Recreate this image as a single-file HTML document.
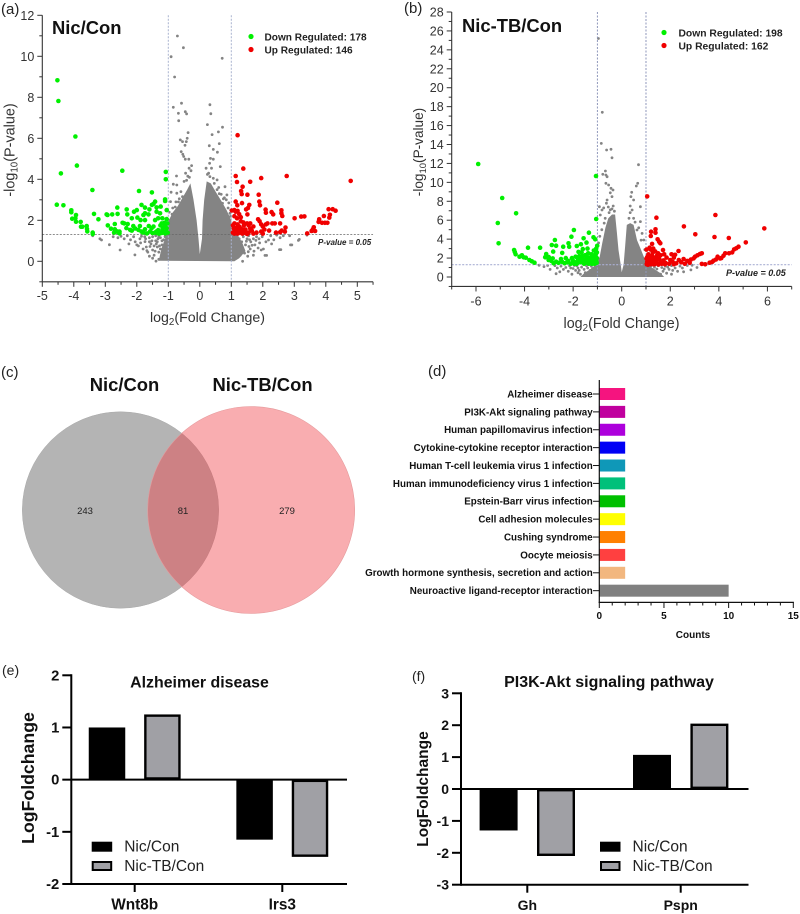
<!DOCTYPE html>
<html lang="en">
<head>
<meta charset="utf-8">
<title>Volcano plots, Venn diagram and pathway charts</title>
<style>
html,body{margin:0;padding:0;background:#fff;width:800px;height:914px;overflow:hidden}
svg{display:block;font-family:"Liberation Sans",Arial,sans-serif}
.panel{font-size:15px;fill:#222}
.tick{font-size:12.5px;fill:#333}
.axt{font-size:14.2px;fill:#333}
.leg{font-size:10.1px;font-weight:bold;fill:#222}
.big{font-size:18.4px;font-weight:bold;fill:#111}
.pv{font-size:8px;font-weight:bold;font-style:italic;fill:#222}
.bl{font-weight:bold;fill:#111}
</style>
</head>
<body>
<svg id="fig" xmlns="http://www.w3.org/2000/svg" width="800" height="914" viewBox="0 0 800 914">
  <g id="panelA">
    <text class="panel" x="1" y="14">(a)</text>
    <text class="big" x="52" y="34">Nic/Con</text>
    <circle cx="251" cy="36.5" r="2.6" fill="#00f000"/>
    <text class="leg" x="264.5" y="40.5">Down Regulated: 178</text>
    <circle cx="251" cy="49.5" r="2.6" fill="#f00000"/>
    <text class="leg" x="264.5" y="53.5">Up Regulated: 146</text>
    <text class="pv" x="318" y="245">P-value = 0.05</text>
    <text class="axt" x="207.5" y="322" text-anchor="middle">log<tspan font-size="9.8" dy="3">2</tspan><tspan dy="-3">(Fold Change)</tspan></text>
    <text class="axt" style="font-size:14.4px" transform="translate(14.5,150) rotate(-90)" text-anchor="middle">-log<tspan font-size="9.8" dy="3">10</tspan><tspan dy="-3">(P-value)</tspan></text>
  </g>
  <g id="panelB">
    <text class="panel" x="404" y="13">(b)</text>
    <text class="big" x="462" y="32">Nic-TB/Con</text>
    <circle cx="664" cy="32.5" r="2.6" fill="#00f000"/>
    <text class="leg" style="font-size:10.3px" x="678.5" y="36.5">Down Regulated: 198</text>
    <circle cx="664" cy="45.5" r="2.6" fill="#f00000"/>
    <text class="leg" style="font-size:10.3px" x="678.5" y="49.5">Up Regulated: 162</text>
    <text class="pv" style="font-size:9px" x="726" y="276">P-value = 0.05</text>
    <text class="axt" style="font-size:14.3px" x="621.5" y="328" text-anchor="middle">log<tspan font-size="9.8" dy="3">2</tspan><tspan dy="-3">(Fold Change)</tspan></text>
    <text class="axt" style="font-size:13.6px" transform="translate(423,152) rotate(-90)" text-anchor="middle">-log<tspan font-size="9.5" dy="3">10</tspan><tspan dy="-3">(P-value)</tspan></text>
  </g>
  <g>
    <text class="panel" x="1" y="377">(c)</text>
    <text class="big" x="124.5" y="391" text-anchor="middle">Nic/Con</text>
    <text class="big" x="262.5" y="391" text-anchor="middle">Nic-TB/Con</text>
    <circle cx="120.5" cy="510" r="98.2" fill="#b4b4b4" stroke="#aaa" stroke-width=".5"/>
    <circle cx="251.2" cy="510" r="103.5" fill="rgb(240,56,64)" fill-opacity=".413" stroke="#e59a9c" stroke-width=".6"/>
    <text x="85" y="514" font-size="9.5" fill="#222" text-anchor="middle">243</text>
    <text x="183" y="514" font-size="9.5" fill="#222" text-anchor="middle">81</text>
    <text x="287" y="514" font-size="9.5" fill="#222" text-anchor="middle">279</text>
  </g>
  <g id="panelD">
    <text class="panel" x="428" y="376">(d)</text>
    <text class="bl" x="693" y="638" font-size="10" text-anchor="middle">Counts</text>
  </g>
  <g id="panelE">
    <text x="2" y="675" font-size="14" fill="#222">(e)</text>
    <text class="bl" x="199.5" y="687.5" font-size="15.9" text-anchor="middle">Alzheimer disease</text>
    <text class="bl" transform="translate(34,778) rotate(-90)" font-size="17.7" text-anchor="middle">LogFoldchange</text>
  </g>
  <g id="panelF">
    <text x="412" y="681" font-size="14" fill="#222">(f)</text>
    <text class="bl" x="609" y="687" font-size="16" text-anchor="middle">PI3K-Akt signaling pathway</text>
    <text class="bl" transform="translate(428,789) rotate(-90)" font-size="15.5" text-anchor="middle">LogFoldchange</text>
  </g>
</svg>
<script>
/* ---------- panel (a) data: [log2FC, -log10P] ---------- */
const aMassX=[-1.3,-1.25,-1.2,-1.1,-1,-.85,-.7,-.55,-.4,-.3,-.2,-.1,-.04,0,.07,.09,.14,.22,.35,.5,.7,.85,1,1.02,1.2,1.35,1.45,1.25,1.1];
const aMassY=[.03,.4,.7,1.1,1.95,2.4,2.7,3.1,3.5,3.8,3,2,1.1,.35,1.1,2,3,3.9,3.8,3.4,2.9,2.5,2,1.4,1.3,.9,.5,.15,0];
const aGray=[[-.71,10.99],[-.52,10.42],[-.91,9.98],[.71,9.9],[-.8,8.99],[-.58,7.71],[-.84,7.51],[-.46,7.3],[-.68,7.22],[-.42,7.19],[-.67,6.86],[.32,7.64],[.35,7.2],[.24,6.67],[.72,6.54],[.59,6.31],[.39,6.18],[.62,5.74],[.3,5.64],[.43,5.46],[.56,5.32],[-.37,6.28],[-.4,6],[-.62,5.92],[-.43,5.84],[-.55,5.84],[-.47,5.66],[-.59,5.35],[-.54,5.22],[-.51,5.11],[-.46,4.98],[-.35,4.98],[-.26,4.67],[-.34,4.54],[-.28,4.42],[.34,5.02],[.31,4.78],[.43,4.98],[.2,4.54],[.37,4.54],[.24,4.24],[.32,4.13],[.43,4.05],[.55,3.97],[.65,4.62],[-.74,4.16],[-.84,3.76],[-.73,3.72],[-.91,3.37],[-.93,2.91],[-.73,3.32],[.8,3.64],[.68,3.27],[.86,3.24],[.72,2.83],[.96,2.34],[.84,3],[-.45,4.3],[-.38,4.15],[-.5,3.9],[-.42,3.95],[-.6,3.4],[-.55,3.15],[-.68,2.9],[-.78,2.65],[-.88,2.3],[-.95,2],[.55,3.5],[.62,3.3],[.75,3.05],[.9,2.6],[.98,2.2],[.46,3.8],[-.65,3.05],[-.76,2.9],[-.86,2.6],[-.97,2.4],[.6,3.6],[.78,3.1],[.92,2.85],[.98,2.5],[-.33,4.1],[.28,4.3],
[-3.17,1.1],[-3.12,1.04],[-2.87,.81],[-2.53,.55],[-2.06,.31],[-1.39,.01],[-2,.8],[-1.95,.75],[-1.74,.96],[-1.7,.7],[-1.6,1.15],[-1.55,.85],[-1.5,.55],[-1.45,.3],[-1.4,1],[-1.35,.7],[-1.3,.45],[-1.25,1.15],[-1.2,.8],[-1.2,.25],[-1.15,1.05],[-1.1,.6],[-2.6,1.15],[-2.5,1.22],[-2.4,1.1],[-2.3,1.25],[-2.2,1.05],[-2.1,1.2],[-2.05,.95],[-1.9,1.1],[-1.85,1.22],[-1.8,.6],[-1.65,.45],[-1.75,1.2],[-1.6,.95],[-1.5,1.2],[-1.45,.75],[-1.4,1.25],[-1.35,.95],[-1.3,1.2],[-1.25,.6],[-1.2,1],[-1.15,.4],[-1.1,.9],[-1.1,1.2],[-1.05,.2],[-1.05,.7],[-3.4,1.25],[-2.75,1.2],[-1.5,.15],[-1.6,.25],[-1.3,.1],[-2.25,.85],[-1.88,.9],[-1.72,1.1],[-1.68,.52],[-1.58,.72],[-1.52,1],[-1.42,.5],[-1.38,.85],[-1.33,1.1],[-1.28,.75],
[2.88,.8],[2.92,.8],[3.16,1.07],[3.13,1.02],[2.53,.57],[2.57,.57],[2.07,.29],[2.12,.29],[1.36,0],[1.75,.8],[2.18,1.04],[1.9,.9],[1.54,.47],[2.44,1.28],[2.55,1.15],[2.35,1.05],[2.65,1.25],[2.1,.95],[1.98,1.2],[2.02,.6],[1.85,.65],[1.7,1.1],[1.62,.95],[1.6,.6],[1.5,1.1],[1.45,.8],[1.42,.4],[1.38,1.2],[1.33,.95],[1.3,.7],[1.28,.3],[1.25,1.1],[1.22,.85],[1.7,.3],[1.8,1.2],[1.95,.55],[3.4,1.28],[2.85,1.25],[1.55,1.25],[1.2,.55],[1.48,.98],[1.56,.72],[1.66,.78],[1.78,1.02],[1.88,1.1],[1.52,.25],[2.28,.85],[2.25,1.25],[1.58,1.05],[1.72,.5]];
const aGreen=[[-4.52,8.83],[-4.49,7.82],[-3.95,6.09],[-3.9,4.67],[-4.41,4.29],[-2.46,4.42],[-3.41,3.48],[-1.93,3.43],[-1.52,3.36],[-1.08,4.36],[-1.08,4],[-4.54,2.76],[-4.33,2.73],[-4.08,2.49],[-4.08,2.39],[-3.93,2.26],[-3.95,2.1],[-4.05,2.08],[-3.93,1.93],[-3.78,1.92],[-3.77,1.69],[-3.73,1.69],[-3.59,1.72],[-3.58,1.58],[-3.57,1.46],[-3.4,1.4],[-3.4,1.33],[-3.36,2.31],[-3.22,2.05],[-2.96,2.29],[-2.93,2.26],[-2.78,2.29],[-2.61,2.31],[-2.62,2.62],[-2.92,1.75],[-2.82,1.59],[-2.7,1.56],[-2.7,1.82],[-2.62,1.45],[-2.55,1.36],[-2.72,1.4],[-2.32,2.53],[-2.3,2.29],[-2.16,2.1],[-2.29,1.82],[-2.45,1.88],[-2.4,1.85],[-2.21,1.53],[-2.11,1.72],[-2,2.5],[-2.09,2.42],[-1.85,2.75],[-1.74,2.62],[-1.6,2.53],[-1.52,2.75],[-1.42,2.91],[-1.47,2.8],[-1.37,2.63],[-1.24,2.67],[-1.1,3.02],[-1.1,2.94],[-1.05,2.5],[-1.98,2.13],[-1.88,2.01],[-1.79,2.26],[-1.74,2.34],[-1.63,2.29],[-1.74,2.01],[-1.37,2.42],[-1.26,2.34],[-1.42,2.01],[-1.32,2.1],[-1.19,2.1],[-1.05,2.06],[-1.85,1.45],[-1.74,1.56],[-1.68,1.36],[-1.53,1.61],[-1.47,1.7],[-1.32,1.52],[-1.21,1.85],[-1.1,1.77],[-1.05,1.61],[-1.19,1.45],[-1.1,1.36],[-1.32,1.36],[-1.58,1.45],[-1.95,1.53],[-2.16,1.5],[-2.55,1.45],[-2.62,1.45],[-1.15,1.65],[-1.25,1.75],[-1.03,1.85],[-1.18,1.58],[-1.08,1.45],[-1.42,1.4],[-1.5,1.38],[-1.8,1.4],[-2.05,1.6],[-1.28,1.35],[-1.12,1.88],[-1.02,1.4],[-1.22,1.38],[-1.38,1.45],[-1.62,1.72],[-1.9,1.72],[-2.33,1.62]];
const aRed=[[1.2,6.15],[1.38,4.52],[1.14,4.16],[1.18,3.87],[1.6,3.88],[1.95,4.06],[2.76,4.16],[4.79,3.92],[1.36,3.64],[1.31,3.43],[1.33,3.28],[1.51,3.25],[1.87,3.25],[1.14,2.91],[1.19,2.73],[1.34,2.84],[1.57,2.75],[1.53,2.6],[1.47,2.53],[1.51,2.29],[1.89,2.91],[1.91,2.73],[2.46,2.86],[2.09,2.52],[2.1,2.37],[2.28,2.4],[2.33,2.29],[2.59,2.49],[2.59,2.34],[2.62,2.21],[3.01,2.1],[3.22,2.18],[3.32,2.19],[4.09,2.54],[4.22,2.54],[4.31,2.47],[4.13,2.27],[4.11,2.13],[3.94,2.21],[3.79,2.05],[3.77,1.92],[3.88,1.88],[3.97,1.88],[4.05,1.88],[3.62,1.66],[3.59,1.56],[3.66,1.48],[3.55,1.48],[3.41,1.36],[1.02,2.48],[1.1,2.5],[1.14,2.42],[1.2,2.46],[1.25,2.3],[1.1,2.2],[1.18,2.1],[1.3,2.15],[1.05,1.75],[1.1,1.85],[1.2,1.8],[1.15,1.62],[1.25,1.7],[1.3,1.6],[1.38,1.9],[1.4,1.75],[1.45,1.55],[1.5,1.85],[1.55,1.75],[1.6,1.85],[1.55,1.4],[1.65,1.5],[1.7,1.7],[1.8,1.4],[1.85,2.05],[1.9,1.95],[1.95,1.8],[2,1.7],[2.05,1.55],[2.1,1.8],[2.15,1.85],[2.2,1.5],[2.3,1.85],[2.38,1.85],[2.42,1.4],[2.55,1.85],[2.6,1.5],[2.7,1.45],[2.72,1.65],[2.55,1.42],[1.05,1.4],[1.1,1.35],[1.15,1.45],[1.2,1.35],[1.3,1.4],[1.35,1.35],[1.4,1.45],[1.5,1.33],[1.7,1.35],[1.95,1.45],[2,1.35],[1.12,1.55],[1.3,1.95],[1.08,1.6],[1.22,1.5],[1.35,1.55],[1.45,1.38],[1.6,1.6]];
const aXTicks=[-5,-4,-3,-2,-1,0,1,2,3,4,5];
const aYTicks=[0,2,4,6,8,10,12];
const thresholdX=[-1,1];
const thresholdY=1.3;

/* ---------- panel (b) data ---------- */
const bMassX=[-1.7,-1.55,-1.3,-1.05,-1,-.9,-.8,-.67,-.55,-.4,-.27,-.2,-.13,-.03,0,.08,.14,.21,.35,.49,.63,.76,.91,1.04,1.3,1.6,1.75];
const bMassY=[0,.4,.8,1.3,1.5,2.2,3.6,5.2,6.2,6.6,6.6,4.8,2.85,1.1,.5,1.3,3.2,5.5,5.7,5.5,3.9,3.1,2.15,1.3,.9,.4,0];
const bGray=[[-.96,25.2],[-.8,17.4],[-.84,14.12],[-.62,13.42],[-.44,13.49],[-.4,12.6],[.69,11.87],[-.67,11.2],[-.78,10.85],[-.65,10.78],[-.6,10.6],[.41,8.95],[.38,8.49],[.66,9.9],[.6,9.62],[.49,8.14],[-.44,9.37],[-.65,9.9],[-.54,9.72],[-.36,9.19],[-.47,8.9],[-.4,8.5],[-.6,8.14],[-.63,7.8],[-.74,7.3],[-.92,7.43],[-.81,7.08],[-.88,6.55],[.77,7.43],[.43,7.08],[.35,6.8],[.49,6.2],[.77,5.85],[.63,4.97],[.84,4.61],[.91,3.91],[-.55,7.4],[-.47,7.1],[-.35,7.5],[-.4,7.2],[-.52,6.8],[-.3,6.95],[-.72,5.7],[-.82,5],[-.9,4.3],[-.95,3.6],[-.68,6.2],[.3,6.2],[.55,5.8],[.7,5.2],[.8,3.9],[.95,2.9],[.35,7.5],
[-3.2,1.1],[-2.95,.8],[-2.55,.55],[-2.05,.3],[-2.5,1.15],[-2.3,1],[-2.15,1.2],[-2,.9],[-1.85,1.2],[-1.75,.7],[-1.7,.3],[-1.65,1.05],[-1.55,.8],[-1.5,.45],[-1.45,1.2],[-1.4,.95],[-1.35,.2],[-1.3,.7],[-1.25,1.15],[-1.2,.9],[-1.2,.35],[-1.1,1.2],[-1.05,1],[-2.75,1.2],[-3.05,1.22],[-3.4,1.25],[-1.95,1.22],[-2.4,.8],[-1.8,.45],[-2.7,.35],[-2.2,.6],[-1.9,.7],[-1.8,.95],[-2.1,.95],[-2.65,.95],
[3.45,1.3],[3.1,1],[2.85,.75],[2.55,.55],[2.05,.3],[2.4,1.15],[2.2,.95],[2.05,1.2],[1.95,.8],[1.8,1.15],[1.7,.6],[1.65,1],[1.6,.3],[1.5,1.2],[1.45,.85],[1.4,.45],[1.35,1.05],[1.3,.75],[1.25,.2],[1.2,1.15],[1.15,.9],[1.1,1.25],[1.05,1.05],[2.7,1.22],[2.3,.6],[1.85,.4],[2.9,1.25],[2.1,.7],[1.9,1.05],[1.75,.85],[2.5,.95]];
const bGreen=[[-5.91,11.94],[-4.92,8.35],[-4.35,6.73],[-5.1,5.71],[-5.07,3.56],[-1.06,10.67],[-1.05,6.13],[-4.43,2.85],[-4.4,2.64],[-4.37,2.4],[-4.21,2.15],[-4.11,2.29],[-4.04,2.08],[-3.95,2.04],[-3.86,3.1],[-3.8,1.8],[-3.7,1.66],[-3.59,1.51],[-3.36,3.1],[-3.15,2.08],[-3.11,2.43],[-3.01,1.8],[-2.88,3.38],[-2.7,3.31],[-2.75,3.91],[-2.82,2.68],[-2.84,1.97],[-2.7,1.62],[-2.41,3.2],[-2.19,3.56],[-2.16,3.2],[-2.07,4.26],[-1.97,4.97],[-1.85,3.28],[-1.68,3.45],[-1.57,4.09],[-1.45,3.63],[-1.35,4.68],[-1.16,4.19],[-1.09,3.98],[-1.41,3],[-1.78,2.65],[-2.45,2.55],[-2.6,1.5],[-2.5,1.9],[-2.35,1.45],[-2.3,2],[-2.2,1.7],[-2.1,1.4],[-2.05,2],[-1.95,1.6],[-1.9,2.15],[-1.85,1.4],[-1.8,1.9],[-1.75,2.2],[-1.7,1.55],[-1.65,2.6],[-1.6,1.85],[-1.55,1.4],[-1.5,2.3],[-1.45,1.7],[-1.4,2.05],[-1.35,1.4],[-1.3,1.8],[-1.25,2.4],[-1.2,1.55],[-1.18,2],[-1.15,2.8],[-1.12,1.4],[-1.1,1.75],[-1.08,2.3],[-1.05,3],[-1.03,1.5],[-1.02,2],[-1.02,2.6],[-1.01,3.3],[-1.6,2.95],[-2.9,1.7],[-3,2.1],[-2.8,1.45],[-2.45,1.6],[-2,1.7],[-1.95,1.4],[-1.72,1.85],[-1.58,1.55],[-1.42,1.5],[-1.22,1.4],[-1.15,1.7],[-1.05,1.7],[-1.3,1.5],[-1.48,1.9],[-1.05,2.5],[-1.38,2.5],[-1.28,2.05],[-1.12,2.3],[-1.62,2.2],[-1.82,1.6],[-2.25,1.55],[-1.52,1.5],[-1.18,1.45]];
const bRed=[[1.05,8.52],[1.43,6.27],[3.86,6.55],[2.56,5.35],[5.87,5.14],[3.03,4.51],[1.21,4.79],[1.2,4.33],[1.39,5.04],[1.39,4.68],[3.82,4.23],[4.41,4.12],[5.11,3.66],[1.48,3.98],[1.54,3.73],[1.59,3.56],[2.34,2.75],[4.81,3.2],[4.72,3.03],[4.63,2.92],[3.3,2.5],[3.22,2.43],[3.12,2.29],[3.02,2.15],[2.96,1.97],[2.85,1.85],[4.26,2.5],[4.19,2.25],[3.95,2.15],[3.88,1.85],[3.78,1.72],[3.62,1.51],[3.44,1.34],[4.42,2.5],[4.55,2.6],[1.25,3.5],[1.3,3],[1.38,2.7],[1.2,2.9],[1.1,2.4],[1.15,3.1],[1.05,2.1],[1.25,2.25],[1.4,2.05],[1.5,2.5],[1.6,2.3],[1.7,2.85],[1.75,2.4],[1.05,1.6],[1.1,1.85],[1.15,1.45],[1.2,1.7],[1.25,1.4],[1.3,1.9],[1.35,1.55],[1.42,1.75],[1.48,1.4],[1.55,1.9],[1.6,1.55],[1.65,1.4],[1.72,1.75],[1.8,1.5],[1.85,2.05],[1.95,1.4],[2,1.8],[2.05,2.4],[2.1,1.6],[2.15,2.05],[2.2,2.35],[2.25,1.45],[2.35,1.8],[2.45,1.55],[2.55,1.9],[2.6,1.4],[2.7,1.7],[2.8,1.5],[1.03,1.35],[1.08,1.3],[1.18,1.35],[1.35,1.35],[1.52,1.32],[1.78,1.35],[2.15,1.35],[1.02,2.9],[1.02,1.95],[1.3,1.35],[3.3,1.38],[3.72,1.58],[4.05,1.95],[4.1,2],[1.12,2.15],[1.18,1.95],[1.28,2.6],[1.45,2.25],[1.33,1.7],[1.08,1.5],[1.55,1.45]];
const bXTicks=[-6,-4,-2,0,2,4,6];
const bYTicks=[0,2,4,6,8,10,12,14,16,18,20,22,24,26,28];

/* ---------- panel (d) data ---------- */
const pathwayNames=["Alzheimer disease","PI3K-Akt signaling pathway","Human papillomavirus infection","Cytokine-cytokine receptor interaction","Human T-cell leukemia virus 1 infection","Human immunodeficiency virus 1 infection","Epstein-Barr virus infection","Cell adhesion molecules","Cushing syndrome","Oocyte meiosis","Growth hormone synthesis, secretion and action","Neuroactive ligand-receptor interaction"];
const pathwayCounts=[2,2,2,2,2,2,2,2,2,2,2,10];
const pathwayPalette=["#f5147f","#c0009e","#ad00dc","#0000f5","#0f98b8","#00c07a","#00c000","#ffff00","#ff8000","#ff4040","#f2b77f","#808080"];
const countTicks=[0,5,10,15];

/* ---------- panels (e) and (f) data ---------- */
const eGenes=["Wnt8b","Irs3"];
const eNicCon=[1,-1.15];
const eNicTb=[1.25,-1.48];
const eTicks=[-2,-1,0,1,2];
const fGenes=["Gh","Pspn"];
const fNicCon=[-1.3,1.07];
const fNicTb=[-2.1,2.05];
const fTicks=[-3,-2,-1,0,1,2,3];
const seriesLabels=["Nic/Con","Nic-TB/Con"];

const NS="http://www.w3.org/2000/svg";
function mk(tag,attrs,parent,text){
  const el=document.createElementNS(NS,tag);
  for(const k in attrs)el.setAttribute(k,attrs[k]);
  if(text!==undefined)el.textContent=text;
  parent.appendChild(el);
  return el;
}
function scale(d0,d1,r0,r1){return v=>r0+(v-d0)*(r1-r0)/(d1-d0);}

function volcano(gId,o){
  const g=document.getElementById(gId);
  const sx=scale(o.xd[0],o.xd[1],o.xr[0],o.xr[1]);
  const sy=scale(o.yd[0],o.yd[1],o.yr[0],o.yr[1]);
  const x0=sx(o.xd[0]),x1=sx(o.xd[2]),y1=sy(o.yd[1]),y0=sy(o.yd[2]);
  const mass=mk('polygon',{points:o.mx.map((v,i)=>sx(v).toFixed(1)+','+sy(o.my[i]).toFixed(1)).join(' '),fill:'#848484'},g);
  
  
  o.gray.forEach(p=>{
    const c=mk('circle',{cx:sx(p[0]).toFixed(1),cy:sy(p[1]).toFixed(1),r:1.4,fill:'#848484'},g);
    
    
  });
  thresholdX.forEach(v=>{
    const l=mk('line',{x1:sx(v),x2:sx(v),y1:y1,y2:y0,stroke:o.vColor,'stroke-width':1,'stroke-dasharray':'2 1.5'},g);
    
    
  });
  const h=mk('line',{x1:x0,x2:x1,y1:sy(thresholdY),y2:sy(thresholdY),stroke:o.hColor,'stroke-width':o.hW,'stroke-dasharray':'2 1.5'},g);
  
  
  o.green.forEach(p=>{
    const c=mk('circle',{cx:sx(p[0]).toFixed(1),cy:sy(p[1]).toFixed(1),r:2.3,fill:'#00f000'},g);
    
    
  });
  o.red.forEach(p=>{
    const c=mk('circle',{cx:sx(p[0]).toFixed(1),cy:sy(p[1]).toFixed(1),r:2.3,fill:'#f00000'},g);
    
    
  });
  const ax=mk('line',{x1:x0,x2:x1,y1:y0,y2:y0,stroke:'#333','stroke-width':1.1},g);
  
  
  const ay=mk('line',{x1:x0,x2:x0,y1:y1,y2:y0,stroke:'#333','stroke-width':1.1},g);
  
  
  o.xt.forEach((v,i)=>{
    const t=mk('line',{x1:sx(v),x2:sx(v),y1:y0,y2:y0+5,stroke:'#333','stroke-width':1},g);
    
    
    const tl=mk('text',{class:'tick',x:sx(v),y:y0+o.xly,'text-anchor':'middle'},g,String(v));
    
    
    const step=o.xt[1]-o.xt[0];
    const mv=v+step/2;
    if(sx(mv)<=x1){
      const m=mk('line',{x1:sx(mv),x2:sx(mv),y1:y0,y2:y0+3,stroke:'#333','stroke-width':1},g);
      
      
    }
    if(i===0&&sx(v-step/2)>=x0){
      const m2=mk('line',{x1:sx(v-step/2),x2:sx(v-step/2),y1:y0,y2:y0+3,stroke:'#333','stroke-width':1},g);
      
      
    }
  });
  o.yt.forEach(v=>{
    const t=mk('line',{x1:x0-5,x2:x0,y1:sy(v),y2:sy(v),stroke:'#333','stroke-width':1},g);
    
    
    const tl=mk('text',{class:'tick',x:x0-8,y:sy(v)+4.5,'text-anchor':'end'},g,String(v));
    
    
    const mv=v-(o.yt[1]-o.yt[0])/2;
    if(sy(mv)<=y0){
      const m=mk('line',{x1:x0-3,x2:x0,y1:sy(mv),y2:sy(mv),stroke:'#333','stroke-width':1},g);
      
      
    }
  });
}
volcano('panelA',{xd:[-5,5,5.5],xr:[42.3,357.3],yd:[0,12,-1],yr:[261.3,15.3],mx:aMassX,my:aMassY,gray:aGray,green:aGreen,red:aRed,xt:aXTicks,yt:aYTicks,xly:18,vColor:'#a9b2cf',hColor:'#666',hW:.8});
volcano('panelB',{xd:[-7,7,7],xr:[451.7,791.7],yd:[0,28,-1],yr:[277,12],mx:bMassX,my:bMassY,gray:bGray,green:bGreen,red:bRed,xt:bXTicks,yt:bYTicks,xly:19,vColor:'#8f98bb',hColor:'#aab0d4',hW:1.1});

/* panel d */
(function(){
  const g=document.getElementById('panelD');
  const sx=scale(0,15,599.3,793.3);
  const band=i=>394+i*17.88;
  pathwayNames.forEach((n,i)=>{
    const b=mk('rect',{x:sx(0),y:band(i)-6,width:sx(pathwayCounts[i])-sx(0),height:12,fill:pathwayPalette[i]},g);
    
    
    const t=mk('line',{x1:593,x2:sx(0),y1:band(i),y2:band(i),stroke:'#111','stroke-width':1},g);
    
    
    const l=mk('text',{class:'bl','font-size':9.8,x:592.7,y:band(i)+3.4,'text-anchor':'end',fill:'#111'},g,n);
    
    
  });
  const ay=mk('line',{x1:sx(0),x2:sx(0),y1:380,y2:603,stroke:'#111','stroke-width':1.2},g);
  
  
  const ax=mk('line',{x1:sx(0)-.6,x2:sx(15)+.6,y1:602.4,y2:602.4,stroke:'#111','stroke-width':1.2},g);
  
  
  for(let v=countTicks[0];v<=countTicks[countTicks.length-1];v++){
    const major=countTicks.includes(v);
    const t=mk('line',{x1:sx(v),x2:sx(v),y1:602.4,y2:major?608:605.5,stroke:'#111','stroke-width':1},g);
    
    
  }
  countTicks.forEach(v=>{
    const l=mk('text',{class:'bl','font-size':10,x:sx(v),y:618.8,'text-anchor':'middle'},g,String(v));
    
    
  });
})();

/* panels e,f */
function groupedBars(gId,o){
  const g=document.getElementById(gId);
  const sy=scale(o.ticks[0],o.ticks[o.ticks.length-1],o.yb,o.yt);
  const cat=i=>o.catX[0]+i*(o.catX[1]-o.catX[0]);
  o.genes.forEach((n,i)=>{
    const y0=sy(0);
    const a=sy(o.s1[i]);
    const b1=mk('rect',{x:cat(i)-o.off-o.w/2,y:Math.min(a,y0),width:o.w,height:Math.abs(a-y0),fill:'#000'},g);
    
    
    const c=sy(o.s2[i]);
    const sw=2.4;
    const b2=mk('rect',{x:cat(i)+o.off-o.w/2+sw/2,y:Math.min(c,y0)+sw/2,width:o.w-sw,height:Math.abs(c-y0)-sw,fill:'#a0a0a5',stroke:'#000','stroke-width':sw},g);
    
    
    const t=mk('line',{x1:cat(i),x2:cat(i),y1:o.yb,y2:o.yb+8,stroke:'#000','stroke-width':2},g);
    
    
    const l=mk('text',{class:'bl','font-size':o.catFont,x:cat(i),y:o.yb+25.5,'text-anchor':'middle'},g,n);
    
    
  });
  const base=mk('line',{x1:o.x0,x2:o.xEnd,y1:sy(0),y2:sy(0),stroke:'#000','stroke-width':2},g);
  
  
  const ax=mk('line',{x1:o.x0,x2:o.xEnd,y1:o.yb,y2:o.yb,stroke:'#000','stroke-width':2},g);
  
  
  const ay=mk('line',{x1:o.x0,x2:o.x0,y1:o.yt-1,y2:o.yb+1,stroke:'#000','stroke-width':2},g);
  
  
  o.ticks.forEach(v=>{
    const t=mk('line',{x1:o.x0-9,x2:o.x0,y1:sy(v),y2:sy(v),stroke:'#000','stroke-width':2},g);
    
    
    const l=mk('text',{class:'bl','font-size':o.tickFont,x:o.x0-12,y:sy(v)+5,'text-anchor':'end'},g,String(v));
    
    
  });
  const s1=mk('rect',{x:o.legX,y:841.7,width:20.5,height:10,fill:'#000'},g);
  
  
  const s2=mk('rect',{x:o.legX+1,y:862,width:18.5,height:8,fill:'#a0a0a5',stroke:'#000','stroke-width':2},g);
  
  
  const l1=mk('text',{x:o.legX+32.5,y:851.5,'font-size':15.5,fill:'#222'},g,seriesLabels[0]);
  
  
  const l2=mk('text',{x:o.legX+32.5,y:871.2,'font-size':15.5,fill:'#222'},g,seriesLabels[1]);
  
  
}
groupedBars('panelE',{genes:eGenes,s1:eNicCon,s2:eNicTb,ticks:eTicks,yb:884,yt:675.3,x0:71.3,xEnd:347,catX:[134.7,282.3],off:27.7,w:36.5,catFont:15.4,tickFont:14.8,legX:91.7});
groupedBars('panelF',{genes:fGenes,s1:fNicCon,s2:fNicTb,ticks:fTicks,yb:884.7,yt:693.3,x0:461,xEnd:748.5,catX:[527.3,680.7],off:28.7,w:38,catFont:14,tickFont:14,legX:600});
</script>
</body>
</html>
